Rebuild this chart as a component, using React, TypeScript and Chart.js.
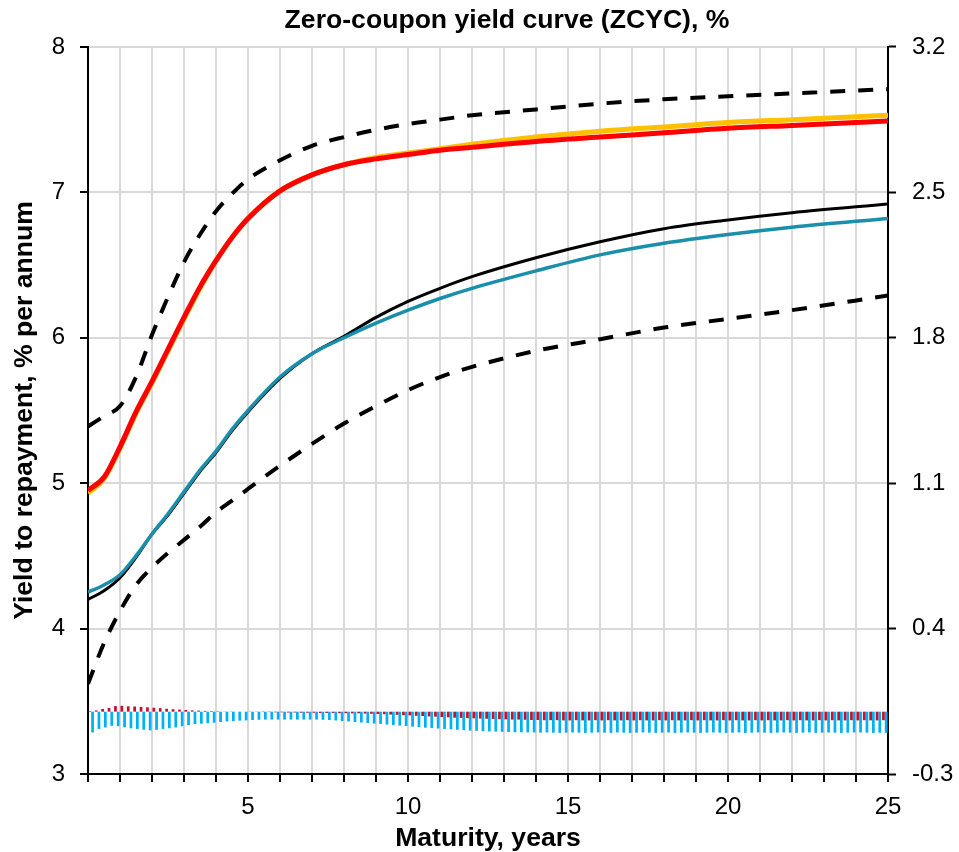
import React, { useEffect, useRef } from 'react';
import { Chart, registerables } from 'chart.js';

Chart.register(...registerables);

const TITLE = 'Zero-coupon yield curve (ZCYC), %';
const X_TITLE = 'Maturity, years';
const Y_TITLE = 'Yield to repayment, % per annum';

// maturities (years) where the curves are sampled
const MATURITIES = [0, 0.5, 1, 1.5, 2, 2.5, 3, 3.5, 4, 4.5, 5, 6, 7, 8, 9, 10, 11, 12, 14, 16, 18, 20, 22, 25];

const UPPER_BAND = [5.39, 5.46, 5.53, 5.73, 6.02, 6.28, 6.52, 6.71, 6.87, 6.99, 7.09, 7.22, 7.32, 7.38, 7.43, 7.47, 7.5, 7.53, 7.57, 7.61, 7.64, 7.66, 7.68, 7.71];
const CURVE_RED = [4.95, 5.04, 5.25, 5.49, 5.7, 5.92, 6.14, 6.35, 6.53, 6.69, 6.82, 7.01, 7.12, 7.19, 7.23, 7.26, 7.29, 7.31, 7.35, 7.38, 7.41, 7.44, 7.46, 7.49];
const CURVE_ORANGE = [4.93, 5.03, 5.24, 5.48, 5.69, 5.91, 6.13, 6.34, 6.53, 6.69, 6.82, 7.01, 7.12, 7.19, 7.24, 7.27, 7.3, 7.33, 7.38, 7.42, 7.45, 7.48, 7.5, 7.53];
const CURVE_BLACK = [4.2, 4.26, 4.35, 4.49, 4.65, 4.78, 4.93, 5.08, 5.21, 5.36, 5.49, 5.72, 5.89, 6.01, 6.14, 6.25, 6.34, 6.42, 6.55, 6.66, 6.75, 6.81, 6.86, 6.92];
const CURVE_TEAL = [4.25, 4.3, 4.37, 4.5, 4.65, 4.79, 4.94, 5.09, 5.22, 5.37, 5.5, 5.73, 5.89, 6.0, 6.1, 6.19, 6.27, 6.34, 6.46, 6.57, 6.65, 6.71, 6.76, 6.82];
const LOWER_BAND = [3.62, 3.9, 4.12, 4.3, 4.42, 4.52, 4.61, 4.7, 4.8, 4.88, 4.96, 5.12, 5.27, 5.41, 5.53, 5.64, 5.73, 5.8, 5.91, 5.99, 6.07, 6.13, 6.19, 6.29];

// bar maturities: 0.1, 0.3, ..., 24.9 years
const BAR_MATURITIES = Array.from({ length: 125 }, (_, k) => Math.round((0.1 + 0.2 * k) * 10) / 10);

const RED_BARS = [
  0.003, 0.006, 0.013, 0.018, 0.027, 0.028, 0.026, 0.025, 0.023, 0.021,
  0.019, 0.017, 0.014, 0.012, 0.01, 0.008, 0.006, 0.005, 0.004, 0.003,
  0.002, 0.001, 0.001, 0.0, 0.0, -0.001, -0.001, -0.002, -0.002, -0.003,
  -0.003, -0.004, -0.004, -0.005, -0.005, -0.005, -0.006, -0.006, -0.006, -0.007,
  -0.007, -0.008, -0.008, -0.009, -0.01, -0.011, -0.012, -0.014, -0.015, -0.017,
  -0.018, -0.02, -0.021, -0.023, -0.024, -0.026, -0.027, -0.029, -0.03, -0.031,
  -0.032, -0.033, -0.034, -0.035, -0.036, -0.037, -0.038, -0.038, -0.039, -0.04,
  -0.04, -0.041, -0.041, -0.041, -0.042, -0.042, -0.041, -0.042, -0.042, -0.041,
  -0.042, -0.041, -0.042, -0.042, -0.041, -0.042, -0.041, -0.042, -0.042, -0.041,
  -0.042, -0.041, -0.042, -0.042, -0.041, -0.042, -0.041, -0.042, -0.042, -0.041,
  -0.042, -0.041, -0.042, -0.042, -0.041, -0.042, -0.041, -0.042, -0.042, -0.041,
  -0.042, -0.041, -0.042, -0.042, -0.041, -0.042, -0.041, -0.042, -0.042, -0.041,
  -0.042, -0.041, -0.042, -0.042, -0.041,
];

const BLUE_BARS = [
  -0.1, -0.083, -0.076, -0.068, -0.07, -0.075, -0.08, -0.083, -0.087, -0.09,
  -0.087, -0.083, -0.08, -0.076, -0.07, -0.065, -0.06, -0.058, -0.055, -0.053,
  -0.05, -0.047, -0.045, -0.043, -0.042, -0.04, -0.039, -0.038, -0.038, -0.038,
  -0.038, -0.038, -0.038, -0.038, -0.038, -0.038, -0.039, -0.04, -0.042, -0.045,
  -0.047, -0.05, -0.052, -0.055, -0.057, -0.059, -0.062, -0.064, -0.067, -0.069,
  -0.072, -0.074, -0.077, -0.079, -0.081, -0.083, -0.085, -0.087, -0.089, -0.091,
  -0.092, -0.094, -0.095, -0.096, -0.097, -0.098, -0.099, -0.099, -0.1, -0.1,
  -0.101, -0.1, -0.101, -0.102, -0.101, -0.1, -0.101, -0.102, -0.101, -0.1,
  -0.101, -0.102, -0.1, -0.101, -0.102, -0.101, -0.1, -0.101, -0.102, -0.101,
  -0.1, -0.102, -0.101, -0.1, -0.101, -0.102, -0.101, -0.1, -0.101, -0.102,
  -0.101, -0.1, -0.102, -0.101, -0.1, -0.101, -0.102, -0.101, -0.1, -0.101,
  -0.102, -0.101, -0.1, -0.102, -0.101, -0.1, -0.101, -0.102, -0.101, -0.1,
  -0.1, -0.101, -0.102, -0.101, -0.102,
];

const X_GRID = [0, 1, 2, 3, 4, 5, 6, 7, 8, 9, 10, 11, 12, 13, 14, 15, 16, 17, 18, 19, 20, 21, 22, 23, 24, 25];
const X_LABELS = [5, 10, 15, 20, 25];
const LEFT_TICKS = [3, 4, 5, 6, 7, 8];
const RIGHT_TICKS = [-0.3, 0.4, 1.1, 1.8, 2.5, 3.2];

const FONT = "'Liberation Sans', Arial, sans-serif";
const BOLD_SIZE = 26.6;
// the original chart is wider than the visible window; its right edge is cropped
const CHART_W = 1014;
const VIEW_W = 959;
const VIEW_H = 852;

const pts = (xs: number[], ys: number[]) => xs.map((x, i) => ({ x, y: ys[i] }));

export default function App() {
  const ref = useRef<HTMLCanvasElement | null>(null);

  useEffect(() => {
    if (!ref.current) return;
    const solid = (label: string, data: number[], color: string, width: number) => ({
      type: 'line' as const,
      label,
      data: pts(MATURITIES, data),
      borderColor: color,
      backgroundColor: color,
      borderWidth: width,
      pointRadius: 0,
      fill: false,
      cubicInterpolationMode: 'monotone' as const,
      yAxisID: 'y',
    });
    const dashed = (label: string, data: number[]) => ({
      ...solid(label, data, '#000000', 4),
      borderDash: [15, 13],
    });
    const chart = new Chart(ref.current, {
      type: 'line',
      data: {
        datasets: [
          solid('ZCYC (red)', CURVE_RED, '#FF0000', 5),
          solid('ZCYC (orange)', CURVE_ORANGE, '#FFC000', 5),
          solid('Teal curve', CURVE_TEAL, '#1A8FAB', 3.5),
          solid('Black curve', CURVE_BLACK, '#000000', 3),
          dashed('Upper bound', UPPER_BAND),
          dashed('Lower bound', LOWER_BAND),
          {
            type: 'bar' as const,
            label: 'Change (red)',
            data: pts(BAR_MATURITIES, RED_BARS),
            backgroundColor: '#C8102E',
            yAxisID: 'y1',
            categoryPercentage: 0.85,
            barPercentage: 1,
          },
          {
            type: 'bar' as const,
            label: 'Change (blue)',
            data: pts(BAR_MATURITIES, BLUE_BARS),
            backgroundColor: '#00B0F0',
            yAxisID: 'y1',
            categoryPercentage: 0.85,
            barPercentage: 1,
          },
        ] as any,
      },
      options: {
        animation: false,
        responsive: false,
        maintainAspectRatio: false,
        layout: { padding: 0 },
        plugins: {
          legend: { display: false },
          tooltip: { enabled: false },
          title: {
            display: true,
            text: TITLE,
            color: '#000',
            font: { family: FONT, size: BOLD_SIZE, weight: 'bold', lineHeight: 1.2 },
            padding: { top: 5, bottom: 10 },
          },
        },
        scales: {
          x: {
            type: 'linear',
            min: 0,
            max: 25,
            offset: false,
            afterBuildTicks: (s: any) => {
              s.ticks = X_GRID.map((v) => ({ value: v }));
            },
            afterFit: (s: any) => {
              s.height = 78;
            },
            ticks: {
              autoSkip: false,
              maxRotation: 0,
              padding: 11,
              color: '#000',
              font: { family: FONT, size: 24 },
              callback: (v: any) => (X_LABELS.includes(Number(v)) ? String(v) : ''),
            },
            grid: { color: '#d9d9d9', lineWidth: 2, tickColor: '#000', tickLength: 8, tickWidth: 2, offset: false },
            border: { color: '#000', width: 2 },
            title: {
              display: true,
              text: X_TITLE,
              color: '#000',
              font: { family: FONT, size: BOLD_SIZE, weight: 'bold', lineHeight: 1 },
              padding: 0,
            },
          },
          y: {
            type: 'linear',
            position: 'left',
            min: 3,
            max: 8,
            afterBuildTicks: (s: any) => {
              s.ticks = LEFT_TICKS.map((v) => ({ value: v }));
            },
            afterFit: (s: any) => {
              s.width = 88;
            },
            ticks: { padding: 15, color: '#000', font: { family: FONT, size: 24 } },
            grid: { color: '#d9d9d9', lineWidth: 2, tickColor: '#000', tickLength: 8, tickWidth: 2 },
            border: { color: '#000', width: 2 },
            title: {
              display: true,
              text: Y_TITLE,
              color: '#000',
              font: { family: FONT, size: BOLD_SIZE, weight: 'bold', lineHeight: 1.2 },
              padding: { top: 9, bottom: 0 },
            },
          },
          y1: {
            type: 'linear',
            position: 'right',
            min: -0.3,
            max: 3.2,
            afterBuildTicks: (s: any) => {
              s.ticks = RIGHT_TICKS.map((v) => ({ value: v }));
            },
            afterFit: (s: any) => {
              s.width = CHART_W - 888;
            },
            ticks: {
              padding: 16,
              color: '#000',
              font: { family: FONT, size: 24 },
              callback: (v: any) => Number(v).toFixed(1),
            },
            grid: { drawOnChartArea: false, color: '#000', tickColor: '#000', tickLength: 8, tickWidth: 2 },
            border: { color: '#000', width: 2 },
          },
        },
      } as any,
    });
    return () => chart.destroy();
  }, []);

  return (
    <div
      style={{
        position: 'absolute',
        left: 0,
        top: 0,
        width: VIEW_W,
        height: VIEW_H,
        overflow: 'hidden',
        background: '#fff',
      }}
    >
      <canvas ref={ref} width={CHART_W} height={VIEW_H} style={{ display: 'block' }} />
    </div>
  );
}
